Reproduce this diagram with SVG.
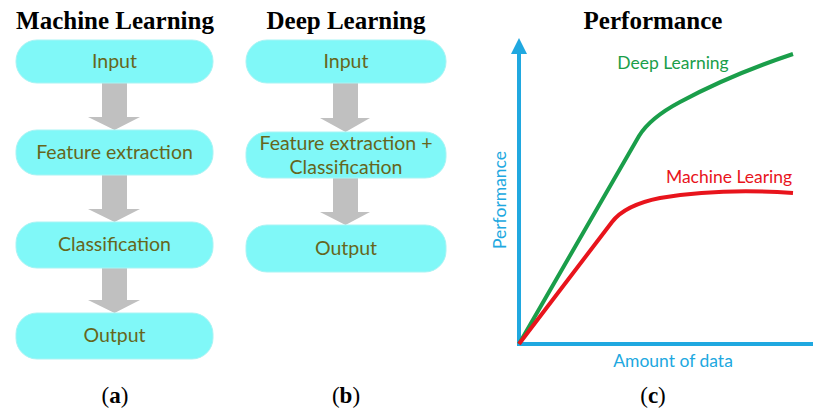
<svg xmlns="http://www.w3.org/2000/svg" width="813" height="414" viewBox="0 0 813 414">
<style>
.title{font-family:"Liberation Serif","DejaVu Serif",serif;font-weight:bold;font-size:25px;fill:#000;text-anchor:middle}
.cap{font-family:"Liberation Serif","DejaVu Serif",serif;font-size:23px;fill:#000;text-anchor:middle}
.box{fill:#80f8f8;stroke:#a8f4f4;stroke-width:1}
.bt{font-family:Lato,"Open Sans",sans-serif;font-size:19.5px;fill:#66661c;text-anchor:middle}
.arr{fill:#c0c0c0}
.axis{stroke:#20a8e0;stroke-width:4;fill:none}
.axt{font-family:Lato,"Open Sans",sans-serif;font-size:17.5px;fill:#20a8e0;text-anchor:middle}
</style>
<rect width="813" height="414" fill="#fff"/>
<text class="title" x="115" y="29">Machine Learning</text>
<text class="title" x="346" y="29">Deep Learning</text>
<text class="title" x="653" y="29">Performance</text>
<g id="connectors">
<polygon class="arr" points="102,83 127,83 127,117 140,117 114.5,130 88,117 102,117"/>
<polygon class="arr" points="102,175 127,175 127,209 140,209 114.5,222 88,209 102,209"/>
<polygon class="arr" points="102,268 127,268 127,300 140,300 114.5,313 88,300 102,300"/>
<polygon class="arr" points="333,83 358,83 358,118 370,118 345.5,132 320,118 333,118"/>
<polygon class="arr" points="333,178 358,178 358,212 370,212 345.5,225 320,212 333,212"/>
</g>
<g id="ml-input"><rect class="box" x="16" y="40" width="197" height="43" rx="21"/><text class="bt" x="114.5" y="68">Input</text></g>
<g id="ml-feature"><rect class="box" x="16" y="130" width="197" height="45" rx="21"/><text class="bt" x="114.5" y="159">Feature extraction</text></g>
<g id="ml-class"><rect class="box" x="16" y="222" width="197" height="46" rx="21"/><text class="bt" x="114.5" y="251">Classification</text></g>
<g id="ml-output"><rect class="box" x="16" y="313" width="197" height="46" rx="21"/><text class="bt" x="114.5" y="342">Output</text></g>
<g id="dl-input"><rect class="box" x="246" y="40" width="200" height="43" rx="21"/><text class="bt" x="346" y="68">Input</text></g>
<g id="dl-feature"><rect class="box" x="246" y="132" width="200" height="46" rx="21"/><text class="bt" x="346" y="150">Feature extraction +</text><text class="bt" x="346" y="174">Classification</text></g>
<g id="dl-output"><rect class="box" x="246" y="225" width="200" height="47" rx="21"/><text class="bt" x="346" y="255">Output</text></g>
<g id="chart">
<line class="axis" x1="519" y1="346" x2="519" y2="52"/>
<polygon points="511,54 519,38 527,54" fill="#20a8e0"/>
<line class="axis" x1="517" y1="344" x2="813" y2="344"/>
<path d="M519,344 L639,136 Q650,118 680,102 Q730,75 793,54" fill="none" stroke="#1a9e4a" stroke-width="4"/>
<path d="M519,344 L612,222 Q625,205 660,198 Q720,188 793,193" fill="none" stroke="#e8141c" stroke-width="4"/>
<text class="axt" x="673" y="367">Amount of data</text>
<text class="axt" transform="translate(506,200) rotate(-90)">Performance</text>
<text x="673" y="69" font-family="Lato,'Open Sans',sans-serif" font-size="17.5" fill="#1a9e4a" text-anchor="middle">Deep Learning</text>
<text x="729" y="183" font-family="Lato,'Open Sans',sans-serif" font-size="17.5" fill="#e8141c" text-anchor="middle">Machine Learing</text>
</g>
<text class="cap" x="115" y="403">(<tspan font-weight="bold">a</tspan>)</text>
<text class="cap" x="346" y="403">(<tspan font-weight="bold">b</tspan>)</text>
<text class="cap" x="653" y="403">(<tspan font-weight="bold">c</tspan>)</text>
</svg>
